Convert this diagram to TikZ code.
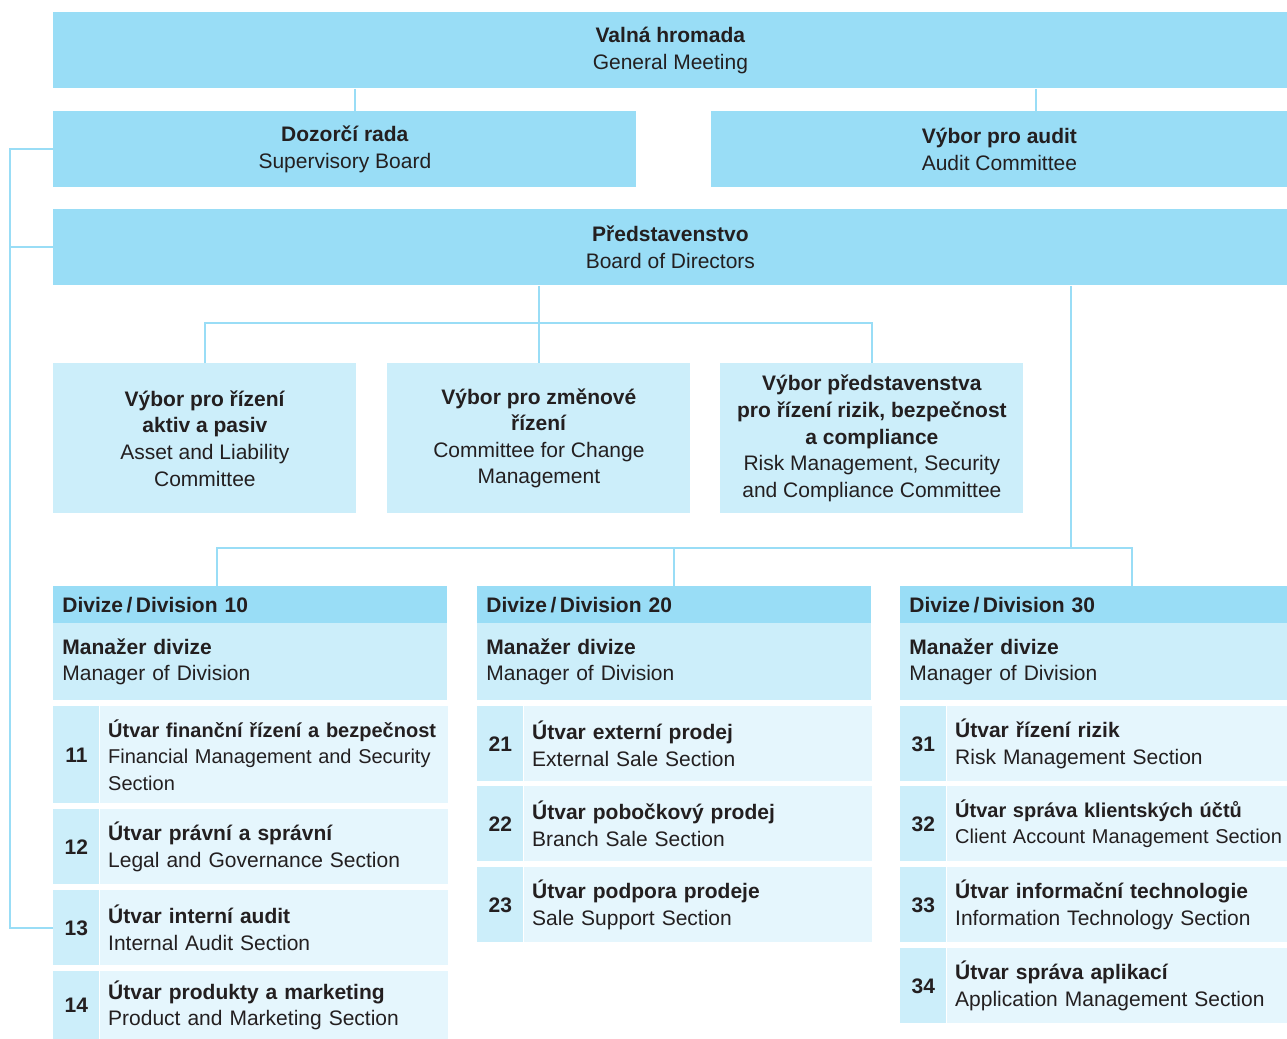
\documentclass[tikz,border=0pt]{standalone}
\usepackage{fontspec}
\setmainfont{Liberation Sans}
\usetikzlibrary{positioning}
\definecolor{orgdark}{RGB}{153,221,246}
\definecolor{orglight}{RGB}{204,238,250}
\definecolor{orgpale}{RGB}{229,246,253}
\definecolor{orgink}{RGB}{35,31,32}

\begin{document}
\begin{tikzpicture}[x=0.5pt,y=0.5pt,yscale=-1,
    every node/.style={inner sep=0pt, text=orgink, font=\fontsize{10.5pt}{13.3pt}\selectfont},
    conn/.style={draw=orgdark, line width=1pt},
    topbox/.style={fill=orgdark, anchor=north west, align=center, minimum height=38pt},
    cttee/.style={fill=orglight, anchor=north west, align=center, minimum width=151.5pt, minimum height=75pt},
    divhead/.style={fill=orgdark, anchor=north west, align=left, inner xsep=4.5pt, minimum height=18.5pt, font=\fontsize{10.5pt}{13.3pt}\selectfont\bfseries},
    mgrbox/.style={fill=orglight, anchor=north west, align=left, inner xsep=4.5pt, minimum height=38.5pt},
    unitno/.style={fill=orglight, anchor=north west, minimum width=23pt, font=\fontsize{10.5pt}{13.3pt}\selectfont\bfseries},
    unitbox/.style={fill=orgpale, align=left, inner xsep=4pt},
    tight/.style={font=\fontsize{10pt}{13.3pt}\selectfont}]
    \useasboundingbox (0,0) rectangle (1287,1039);

    % Top bodies
    \node [topbox, minimum width=617pt] (gm) at (53,12) {\textbf{Valná hromada}\\General Meeting};
    \node [topbox, minimum width=291.5pt] (sb) at (53,111) {\textbf{Dozorčí rada}\\Supervisory Board};
    \node [topbox, minimum width=288pt] (ac) at (711,111) {\textbf{Výbor pro audit}\\Audit Committee};
    \node [topbox, minimum width=617pt] (bod) at (53,209) {\textbf{Představenstvo}\\Board of Directors};

    % Committees
    \node [cttee] (c1) at (53,363) {\textbf{Výbor pro řízení}\\\textbf{aktiv a pasiv}\\Asset and Liability\\Committee};
    \node [cttee] (c2) at (387,363) {\textbf{Výbor pro změnové}\\\textbf{řízení}\\Committee for Change\\Management};
    \node [cttee] (c3) at (720,363) {\textbf{Výbor představenstva}\\\textbf{pro řízení rizik, bezpečnost}\\\textbf{a compliance}\\Risk Management, Security\\and Compliance Committee};

    % Division 10
    \node [divhead, text width=188pt] (d10) at (53,586) {Divize\,/\,Division 10};
    \node [mgrbox, text width=188pt] (m10) at (53,623) {\textbf{Manažer divize}\\Manager of Division};
    \node [unitno, minimum height=48.5pt] (n11) at (53,706) {11};
    \node [unitbox, tight, right=0pt of n11, minimum height=48.5pt, text width=166pt] (u11) {\mbox{\textbf{Útvar finanční řízení a bezpečnost}}\\\mbox{Financial Management and Security}\\Section};
    \node [unitno, minimum height=37.5pt] (n12) at (53,809) {12};
    \node [unitbox, right=0pt of n12, minimum height=37.5pt, text width=166pt] (u12) {\textbf{Útvar právní a správní}\\Legal and Governance Section};
    \node [unitno, minimum height=37.5pt] (n13) at (53,890) {13};
    \node [unitbox, right=0pt of n13, minimum height=37.5pt, text width=166pt] (u13) {\textbf{Útvar interní audit}\\Internal Audit Section};
    \node [unitno, minimum height=34pt] (n14) at (53,971) {14};
    \node [unitbox, right=0pt of n14, minimum height=34pt, text width=166pt] (u14) {\textbf{Útvar produkty a marketing}\\Product and Marketing Section};

    % Division 20
    \node [divhead, text width=188pt] (d20) at (477,586) {Divize\,/\,Division 20};
    \node [mgrbox, text width=188pt] (m20) at (477,623) {\textbf{Manažer divize}\\Manager of Division};
    \node [unitno, minimum height=37.5pt] (n21) at (477,706) {21};
    \node [unitbox, right=0pt of n21, minimum height=37.5pt, text width=166pt] (u21) {\textbf{Útvar externí prodej}\\External Sale Section};
    \node [unitno, minimum height=37.5pt] (n22) at (477,786) {22};
    \node [unitbox, right=0pt of n22, minimum height=37.5pt, text width=166pt] (u22) {\textbf{Útvar pobočkový prodej}\\Branch Sale Section};
    \node [unitno, minimum height=37.5pt] (n23) at (477,867) {23};
    \node [unitbox, right=0pt of n23, minimum height=37.5pt, text width=166pt] (u23) {\textbf{Útvar podpora prodeje}\\Sale Support Section};

    % Division 30
    \node [divhead, text width=184.5pt] (d30) at (900,586) {Divize\,/\,Division 30};
    \node [mgrbox, text width=184.5pt] (m30) at (900,623) {\textbf{Manažer divize}\\Manager of Division};
    \node [unitno, minimum height=37.5pt] (n31) at (900,706) {31};
    \node [unitbox, right=0pt of n31, minimum height=37.5pt, text width=162.5pt] (u31) {\textbf{Útvar řízení rizik}\\Risk Management Section};
    \node [unitno, minimum height=37.5pt] (n32) at (900,786) {32};
    \node [unitbox, tight, right=0pt of n32, minimum height=37.5pt, text width=162.5pt] (u32) {\mbox{\textbf{Útvar správa klientských účtů}}\\\mbox{Client Account Management Section}};
    \node [unitno, minimum height=37.5pt] (n33) at (900,867) {33};
    \node [unitbox, right=0pt of n33, minimum height=37.5pt, text width=162.5pt] (u33) {\textbf{Útvar informační technologie}\\Information Technology Section};
    \node [unitno, minimum height=37.5pt] (n34) at (900,948) {34};
    \node [unitbox, right=0pt of n34, minimum height=37.5pt, text width=162.5pt] (u34) {\textbf{Útvar správa aplikací}\\Application Management Section};

    % Connectors
    \draw [conn] (gm.south -| 355,0) -- (sb.north -| 355,0);
    \draw [conn] (gm.south -| 1036,0) -- (ac.north -| 1036,0);
    \draw [conn] (sb.west) -| (n13.west -| 10,0) -- (n13.west);
    \draw [conn] (bod.west) -- (bod.west -| 10,0);
    \draw [conn] (bod.south -| c2.north) -- (c2.north);
    \draw [conn] (c1.north) -- ++(0,-40) -| (c3.north);
    \coordinate (hub) at (1071,548);
    \draw [conn] (bod.south -| hub) -- (hub);
    \draw [conn] (d10.north -| 217,0) -- ++(0,-38) -| (d30.north -| 1132,0);
    \draw [conn] (d20.north) -- ++(0,-38);

\end{tikzpicture}
\end{document}
